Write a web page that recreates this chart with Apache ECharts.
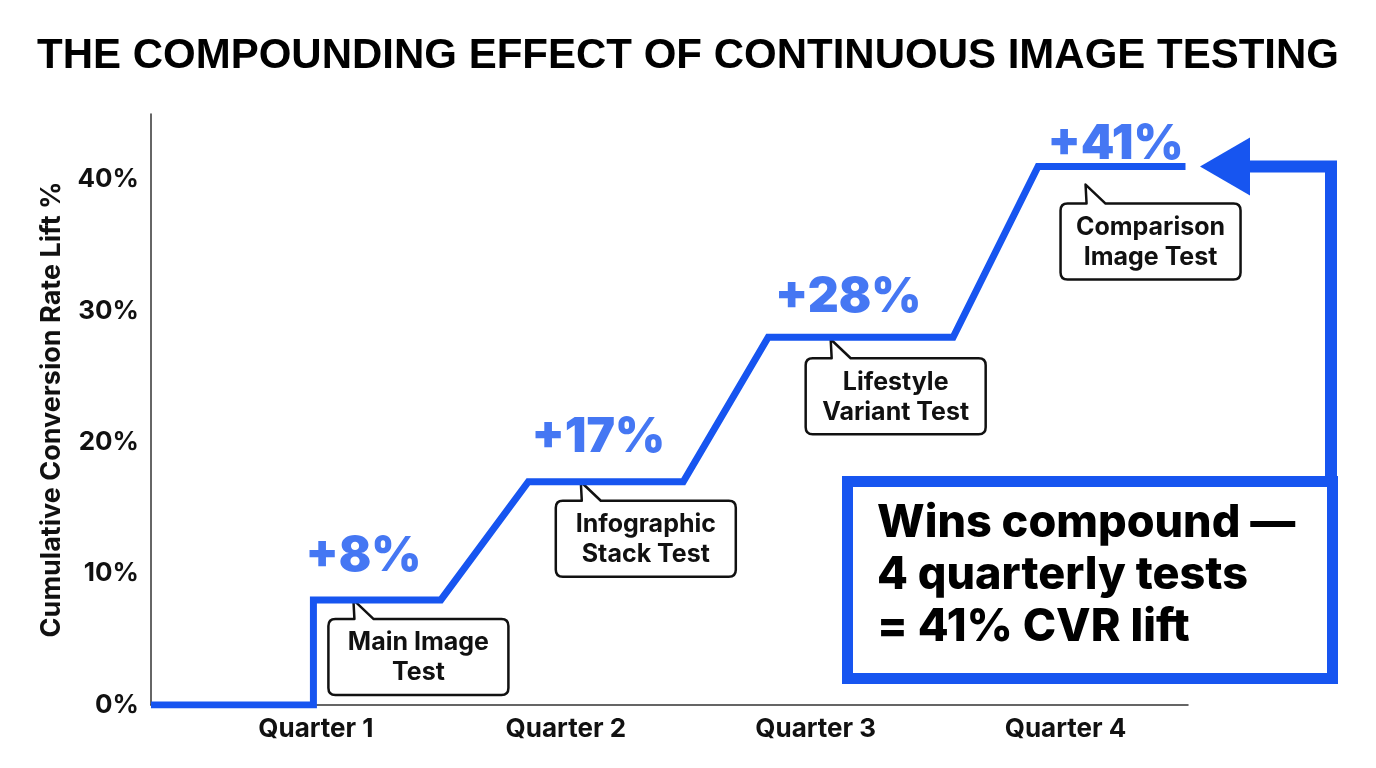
<!DOCTYPE html>
<html>
<head>
<meta charset="utf-8">
<script src="https://cdn.jsdelivr.net/npm/echarts@6.0.0/dist/echarts.min.js"></script>
<style>
  html, body { margin: 0; background: #fff; }
  #chart { width: 1376px; height: 768px; }
</style>
</head>
<body>
<div id="chart"></div>
<script>
// x is measured in quarters (Quarter 1 = 1)
const quarters = ['Quarter 1', 'Quarter 2', 'Quarter 3', 'Quarter 4']
const quarterPos = [1, 2, 3, 4]

// cumulative lift path
const pathQ = [0.34, 0.99, 0.99, 1.5, 1.85, 2.47, 2.81, 3.55, 3.89, 4.48]
const pathLift = [0, 0, 8, 8, 17, 17, 28, 28, 41, 41]

// the four tests
const tests = ['Main Image\nTest', 'Infographic\nStack Test', 'Lifestyle\nVariant Test', 'Comparison\nImage Test']
const testLift = [8, 17, 28, 41]
const testQ = [1.15, 2.06, 3.06, 4.08]
const liftLabelQ = [1.19, 2.13, 3.13, 4.2]

// layout tweaks (px)
const calloutDrop = [0, 0, 2, 18]
const liftGap = [19, 20, 16, -2]

const BLUE = '#1755f0'
const INK = '#111'

function renderCallout(params, api) {
  const i = params.dataIndex
  const p = api.coord([api.value(0), api.value(1)])
  const tx = p[0]
  const ty = p[1] + calloutDrop[i]
  const W = 180, H = 76, r = 7
  const L = tx - 25, T = ty + 19, R = L + W, B = T + H
  const d = `M${L + r} ${T} L${tx + 1} ${T} L${tx} ${ty} L${tx + 20} ${T} L${R - r} ${T} ` +
    `Q${R} ${T} ${R} ${T + r} L${R} ${B - r} Q${R} ${B} ${R - r} ${B} L${L + r} ${B} ` +
    `Q${L} ${B} ${L} ${B - r} L${L} ${T + r} Q${L} ${T} ${L + r} ${T} Z`
  return {
    type: 'group',
    children: [
      { type: 'path', shape: { pathData: d }, style: { fill: '#fff', stroke: INK, lineWidth: 2.5, lineJoin: 'round' } },
      {
        type: 'text',
        style: {
          text: tests[i], x: L + W / 2, y: T + H / 2 + 1, align: 'center', verticalAlign: 'middle',
          font: 'bold 25px Inter', lineHeight: 30, fill: INK
        }
      }
    ]
  }
}

const chart = echarts.init(document.getElementById('chart'))

const axisFont = { fontFamily: 'Inter', fontWeight: 'bold', fontSize: 26, color: INK }

const option = {
  backgroundColor: '#fff',
  animation: false,
  title: {
    text: 'THE COMPOUNDING EFFECT OF CONTINUOUS IMAGE TESTING',
    left: 32,
    top: 30,
    textStyle: { fontFamily: 'Liberation Sans', fontWeight: 'bold', fontSize: 42, lineHeight: 42, color: '#000' }
  },
  grid: { left: 151, right: 188, top: 114, bottom: 63 },
  xAxis: {
    type: 'value',
    min: 0.34,
    max: 4.49,
    axisLine: { show: true, lineStyle: { color: '#333', width: 1.5 } },
    axisTick: { show: false },
    splitLine: { show: false },
    axisLabel: Object.assign({
      customValues: quarterPos,
      formatter: v => quarters[quarterPos.indexOf(v)],
      margin: 11
    }, axisFont)
  },
  yAxis: {
    type: 'value',
    min: 0,
    max: 45,
    interval: 10,
    name: 'Cumulative Conversion Rate Lift %',
    nameLocation: 'middle',
    nameGap: 86,
    nameTextStyle: Object.assign({}, axisFont, { fontSize: 27 }),
    axisLine: { show: true, lineStyle: { color: '#333', width: 1.5 } },
    axisTick: { show: false },
    splitLine: { show: false },
    axisLabel: Object.assign({
      showMaxLabel: false,
      formatter: '{value}%',
      margin: 12
    }, axisFont)
  },
  series: [
    {
      type: 'custom',
      z: 1,
      silent: true,
      renderItem: renderCallout,
      data: testQ.map((q, i) => [q, testLift[i]])
    },
    {
      type: 'line',
      z: 3,
      data: pathQ.map((q, i) => [q, pathLift[i]]),
      symbol: 'none',
      lineStyle: { color: BLUE, width: 7, join: 'miter' }
    },
    {
      type: 'scatter',
      z: 4,
      silent: true,
      symbolSize: 0,
      data: liftLabelQ.map((q, i) => ({ value: [q, testLift[i]], label: { distance: liftGap[i] } })),
      label: {
        show: true,
        position: 'top',
        formatter: p => '+' + p.value[1] + '%',
        color: BLUE,
        fontFamily: 'Inter',
        fontWeight: 900,
        fontSize: 48,
        lineHeight: 48
      }
    }
  ]
}

chart.setOption(option)

// summary box and arrow pointing back at the final level
const topY = chart.convertToPixel({ gridIndex: 0 }, [4.48, testLift[testLift.length - 1]])[1]
chart.setOption({
  graphic: [
    {
      type: 'polyline',
      shape: { points: [[1331, 480], [1331, topY], [1248, topY]] },
      style: { stroke: BLUE, lineWidth: 12, fill: null, lineJoin: 'miter' },
      z: 10
    },
    {
      type: 'polygon',
      shape: { points: [[1200, topY], [1250, topY - 29], [1250, topY + 29]] },
      style: { fill: BLUE },
      z: 10
    },
    {
      type: 'rect',
      shape: { x: 847.5, y: 481.5, width: 485, height: 197 },
      style: { fill: '#fff', stroke: BLUE, lineWidth: 11 },
      z: 10
    },
    {
      type: 'text',
      x: 877,
      y: 497,
      style: {
        text: 'Wins compound —\n4 quarterly tests\n= 41% CVR lift',
        font: '800 45px Inter',
        lineHeight: 52,
        fill: '#000'
      },
      z: 11
    }
  ]
})

if (window) window.addEventListener('resize', chart.resize)
</script>
</body>
</html>
